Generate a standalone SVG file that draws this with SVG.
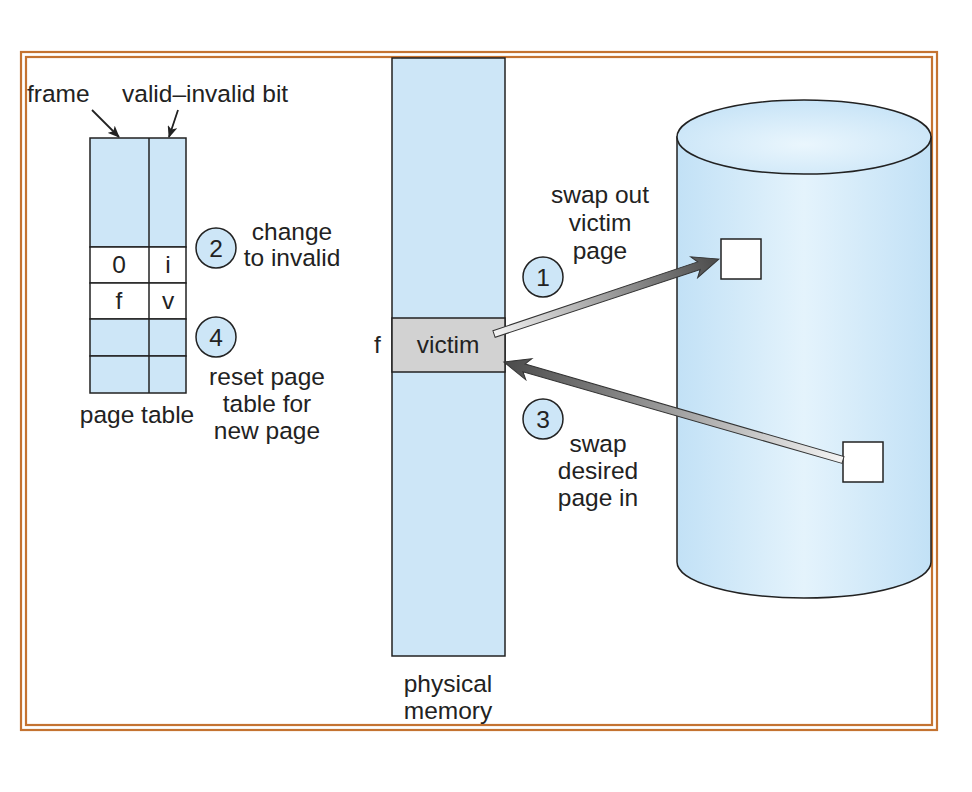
<svg xmlns="http://www.w3.org/2000/svg" width="972" height="792" viewBox="0 0 972 792">
<defs>
<style>
text{font-family:"Liberation Sans",Arial,sans-serif;font-size:24.5px;fill:#222}
.c{text-anchor:middle}
.blue{fill:#cde6f7;stroke:#222;stroke-width:1.5}
.wh{fill:#fff;stroke:#222;stroke-width:1.5}
.circ{fill:#cde6f7;stroke:#222;stroke-width:1.5}
.bd{fill:none;stroke:#c47331;stroke-width:2.2}
.thin{stroke:#222;stroke-width:1.8;fill:none}
</style>
<linearGradient id="cyl" x1="0" x2="1" y1="0" y2="0">
<stop offset="0" stop-color="#c2e1f6"/>
<stop offset="0.5" stop-color="#e4f3fc"/>
<stop offset="1" stop-color="#c2e1f6"/>
</linearGradient>
<radialGradient id="top" cx="0.5" cy="0.6" r="0.6">
<stop offset="0" stop-color="#eaf6fd"/>
<stop offset="1" stop-color="#c8e4f7"/>
</radialGradient>
<linearGradient id="sh1" gradientUnits="userSpaceOnUse" x1="0" y1="0" x2="237" y2="0">
<stop offset="0" stop-color="#f4f4f4"/>
<stop offset="1" stop-color="#4a4a4a"/>
</linearGradient>
<linearGradient id="sh3" gradientUnits="userSpaceOnUse" x1="0" y1="0" x2="353" y2="0">
<stop offset="0" stop-color="#f4f4f4"/>
<stop offset="1" stop-color="#4a4a4a"/>
</linearGradient>
<marker id="ah" viewBox="0 0 12 10" refX="11" refY="5" markerWidth="12" markerHeight="10" markerUnits="userSpaceOnUse" orient="auto">
<path d="M0,0 L12,5 L0,10 L3,5 z" fill="#222"/>
</marker>
</defs>
<rect width="972" height="792" fill="#fff"/>
<g id="border">
<rect class="bd" x="21" y="52" width="916" height="678"/>
<rect class="bd" x="26" y="57" width="906" height="668"/>
</g>
<g id="page-table">
<rect class="blue" x="90" y="138" width="96" height="109"/>
<rect class="wh" x="90" y="247" width="96" height="36"/>
<rect class="wh" x="90" y="283" width="96" height="36"/>
<rect class="blue" x="90" y="319" width="96" height="37"/>
<rect class="blue" x="90" y="356" width="96" height="37"/>
<line x1="149" y1="138" x2="149" y2="393" stroke="#222" stroke-width="1.5"/>
<text class="c" x="119" y="273">0</text>
<text class="c" x="168" y="273">i</text>
<text class="c" x="119" y="309">f</text>
<text class="c" x="168" y="309">v</text>
<text class="c" x="137" y="423">page table</text>
</g>
<g id="labels-top">
<text x="27" y="102">frame</text>
<text x="122" y="102">valid–invalid bit</text>
</g>
<g id="step2">
<circle class="circ" cx="216" cy="248" r="20"/>
<text class="c" x="216" y="257">2</text>
<text class="c" x="292" y="240">change</text>
<text class="c" x="292" y="266">to invalid</text>
</g>
<g id="step4">
<circle class="circ" cx="216" cy="337" r="20"/>
<text class="c" x="216" y="346">4</text>
<text class="c" x="267" y="385">reset page</text>
<text class="c" x="267" y="412">table for</text>
<text class="c" x="267" y="439">new page</text>
</g>
<g id="physical-memory">
<rect class="blue" x="392" y="58" width="113" height="598"/>
<rect x="392" y="318" width="113" height="54" fill="#d2d2d2" stroke="#222" stroke-width="1.5"/>
<text class="c" x="448" y="353">victim</text>
<text x="374" y="353">f</text>
<text class="c" x="448" y="692">physical</text>
<text class="c" x="448" y="719">memory</text>
</g>
<g id="disk">
<path d="M677,137 L677,562 A127,36 0 0 0 931,562 L931,137 Z" fill="url(#cyl)" stroke="#222" stroke-width="1.5"/>
<ellipse cx="804" cy="137" rx="127" ry="37" fill="url(#top)" stroke="#222" stroke-width="1.5"/>
<rect class="wh" x="721" y="239" width="40" height="40"/>
<rect class="wh" x="843" y="442" width="40" height="40"/>
</g>
<g id="step1">
<circle class="circ" cx="543" cy="277" r="20"/>
<text class="c" x="543" y="286">1</text>
<text class="c" x="600" y="203">swap out</text>
<text class="c" x="600" y="231">victim</text>
<text class="c" x="600" y="259">page</text>
</g>
<g id="step3">
<circle class="circ" cx="543" cy="419" r="20"/>
<text class="c" x="543" y="428">3</text>
<text class="c" x="598" y="452">swap</text>
<text class="c" x="598" y="479">desired</text>
<text class="c" x="598" y="506">page in</text>
</g>
<g id="connectors">
<line class="thin" x1="92" y1="110" x2="119" y2="137" marker-end="url(#ah)"/>
<line class="thin" x1="178" y1="110" x2="169" y2="137" marker-end="url(#ah)"/>
<g transform="translate(494,334) rotate(-18.43)">
<path d="M0,-3.5 L216,-4 L211,-11 L237,0 L211,11 L216,4 L0,3.5 Z" fill="url(#sh1)" stroke="#333" stroke-width="1"/>
</g>
<g transform="translate(843,460) rotate(196.12)">
<path d="M0,-3.5 L332,-4 L327,-11 L353,0 L327,11 L332,4 L0,3.5 Z" fill="url(#sh3)" stroke="#333" stroke-width="1"/>
</g>
</g>
</svg>
